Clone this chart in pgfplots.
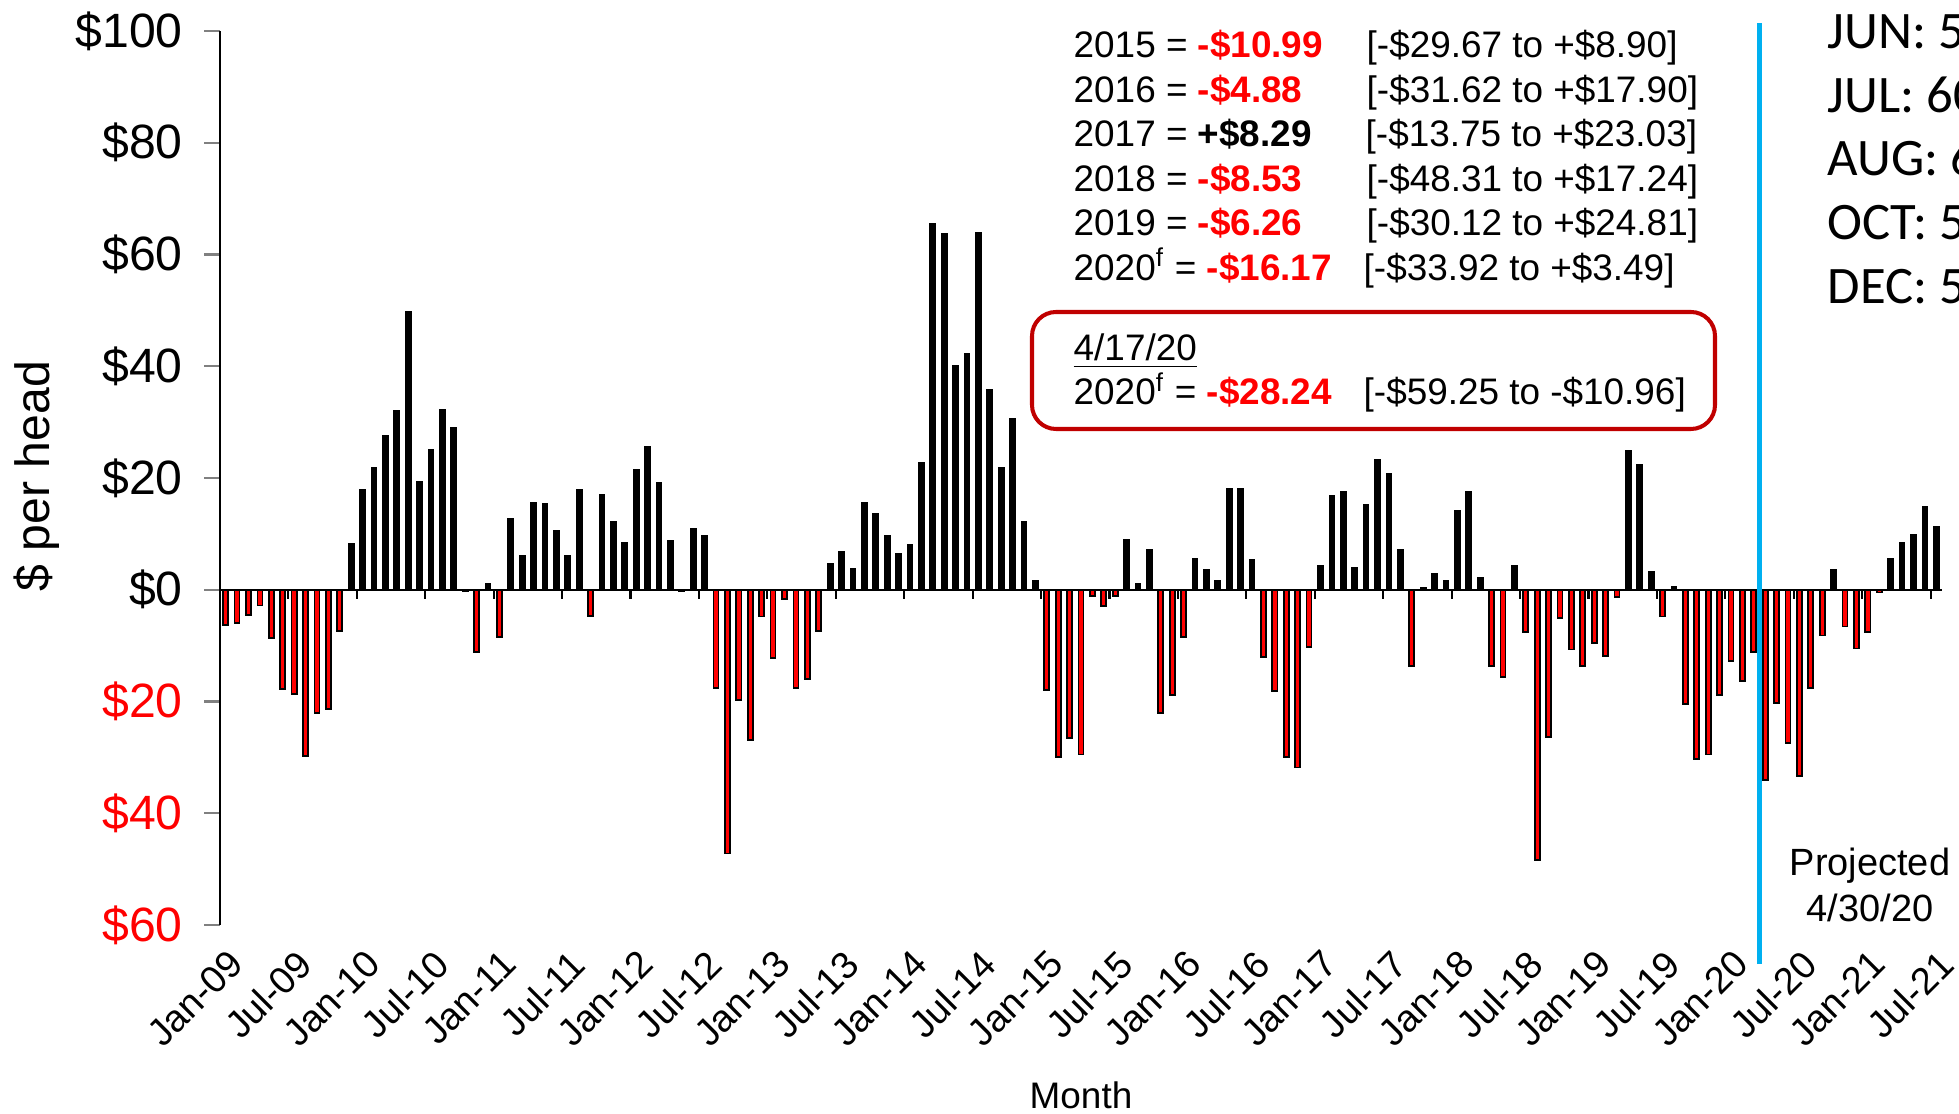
\documentclass[border=0pt]{standalone}
\usepackage{fontspec}
\setmainfont{Liberation Sans}
\newfontfamily\calibri{Carlito}
\usepackage{pgfplots}
\pgfplotsset{compat=1.18}
\usepackage{pgfplotstable}
\definecolor{negred}{RGB}{255,0,0}
\definecolor{boxred}{RGB}{192,0,0}
\definecolor{lineblue}{RGB}{0,176,240}

\pgfplotstableread{
k v
0 -6.3
1 -6.0
2 -4.5
3 -2.8
4 -8.7
5 -17.7
6 -18.7
7 -29.7
8 -22.1
9 -21.3
10 -7.4
11 8.2
12 17.9
13 21.8
14 27.6
15 32.0
16 49.7
17 19.3
18 25.1
19 32.2
20 28.9
21 -0.2
22 -11.1
23 1.0
24 -8.4
25 12.6
26 6.1
27 15.6
28 15.3
29 10.5
30 6.1
31 17.9
32 -4.7
33 16.9
34 12.1
35 8.4
36 21.4
37 25.5
38 19.1
39 8.7
40 -0.3
41 10.9
42 9.6
43 -17.6
44 -47.2
45 -19.7
46 -26.9
47 -4.8
48 -12.2
49 -1.6
50 -17.6
51 -16.0
52 -7.4
53 4.7
54 6.8
55 3.8
56 15.6
57 13.5
58 9.6
59 6.5
60 8.0
61 22.7
62 65.5
63 63.6
64 40.0
65 42.2
66 63.9
67 35.8
68 21.8
69 30.5
70 12.1
71 1.6
72 -17.9
73 -29.9
74 -26.5
75 -29.5
76 -1.1
77 -2.9
78 -1.1
79 8.9
80 1.1
81 7.2
82 -22.1
83 -18.9
84 -8.4
85 5.5
86 3.5
87 1.5
88 18.1
89 18.1
90 5.3
91 -12.1
92 -18.1
93 -29.9
94 -31.8
95 -10.2
96 4.2
97 16.8
98 17.5
99 4.0
100 15.2
101 23.2
102 20.8
103 7.2
104 -13.7
105 0.4
106 2.8
107 1.5
108 14.2
109 17.5
110 2.1
111 -13.7
112 -15.6
113 4.2
114 -7.6
115 -48.4
116 -26.3
117 -5.1
118 -10.7
119 -13.7
120 -9.5
121 -11.8
122 -1.3
123 24.9
124 22.4
125 3.2
126 -4.8
127 0.5
128 -20.5
129 -30.3
130 -29.5
131 -18.9
132 -12.8
133 -16.3
134 -11.1
135 -34.0
136 -20.3
137 -27.4
138 -33.3
139 -17.6
140 -8.2
141 3.5
142 -6.6
143 -10.5
144 -7.6
145 -0.5
146 5.6
147 8.3
148 9.9
149 14.8
150 11.2
}\margins

\begin{document}
\begin{tikzpicture}[x=1cm,y=1cm]
\useasboundingbox (0,0) rectangle (19.59,11.14);
\begin{axis}[
  at={(2.20cm,1.89cm)}, anchor=south west,
  width=17.22cm, height=8.94cm, scale only axis,
  xmin=-0.5, xmax=150.5, ymin=-60, ymax=100,
  axis lines*=left,
  x axis line style={draw=none},
  xtick style={draw=none},
  y axis line style={line width=0.6pt},
  ytick style={line width=0.6pt},
  tick align=outside,
  major tick length=1.6mm,
  ytick={-60,-40,-20,0,20,40,60,80,100},
  yticklabels={{\textcolor{negred}{\$60}},{\textcolor{negred}{\$40}},{\textcolor{negred}{\$20}},\$0,\$20,\$40,\$60,\$80,\$100},
  yticklabel style={font=\fontsize{13.7}{16}\selectfont, xshift=-0.9mm},
  xtick={-0.5,5.5,...,149.5},
  xticklabels={Jan-09,Jul-09,Jan-10,Jul-10,Jan-11,Jul-11,Jan-12,Jul-12,Jan-13,Jul-13,Jan-14,Jul-14,Jan-15,Jul-15,Jan-16,Jul-16,Jan-17,Jul-17,Jan-18,Jul-18,Jan-19,Jul-19,Jan-20,Jul-20,Jan-21,Jul-21},
  xticklabel style={font=\fontsize{10.8}{13}\selectfont, rotate=45, anchor=north east, yshift=0.3mm, xshift=1.2mm},
  clip=false,
]
\addplot[ybar, bar width=0.44, bar shift=0pt, fill=black, draw=black, line width=0.5pt,
  restrict y to domain=0:200] table[x=k,y=v]{\margins};
\addplot[ybar, bar width=0.44, bar shift=0pt, fill=negred, draw=black, line width=0.5pt,
  restrict y to domain=-200:0] table[x=k,y=v]{\margins};
\draw[line width=0.6pt] (axis cs:-0.5,0) -- (axis cs:150.5,0);
\pgfplotsinvokeforeach{5.5,11.5,...,149.5}{\draw[line width=0.6pt] (axis cs:#1,0) -- ++(0pt,-0.9mm);}
\addplot[lineblue, line width=1.4pt, no marks] coordinates {(134.5,-67) (134.5,101.4)};
\end{axis}

% y label and x label
\node[rotate=90, font=\fontsize{13.7}{16}\selectfont] at (0.37,6.38) {\$ per head};
\node[anchor=base, font=\fontsize{10.5}{12}\selectfont] at (10.81,0.05) {Month};

% annual summary lines
\begin{scope}[every node/.style={anchor=base west, inner sep=0pt, font=\fontsize{10.5}{12}\selectfont}]
\node at (10.73,10.56) {2015 = \textbf{\textcolor{negred}{-\$10.99}}};
\node at (13.66,10.56) {[-\$29.67 to +\$8.90]};
\node at (10.73,10.115) {2016 = \textbf{\textcolor{negred}{-\$4.88}}};
\node at (13.66,10.115) {[-\$31.62 to +\$17.90]};
\node at (10.73,9.67) {2017 = \textbf{+\$8.29}};
\node at (13.65,9.67) {[-\$13.75 to +\$23.03]};
\node at (10.73,9.225) {2018 = \textbf{\textcolor{negred}{-\$8.53}}};
\node at (13.66,9.225) {[-\$48.31 to +\$17.24]};
\node at (10.73,8.78) {2019 = \textbf{\textcolor{negred}{-\$6.26}}};
\node at (13.66,8.78) {[-\$30.12 to +\$24.81]};
\node at (10.73,8.335) {2020\textsuperscript{f} = \textbf{\textcolor{negred}{-\$16.17}}};
\node at (13.63,8.335) {[-\$33.92 to +\$3.49]};
\node at (10.73,7.53) {\underline{4/17/20}};
\node at (10.73,7.09) {2020\textsuperscript{f} = \textbf{\textcolor{negred}{-\$28.24}}};
\node at (13.63,7.09) {[-\$59.25 to -\$10.96]};
\end{scope}
\draw[boxred, line width=1.15pt, rounded corners=2.4mm] (10.32,8.02) rectangle (17.15,6.85);

% projected label
\node[anchor=base, font=\fontsize{10.8}{13}\selectfont] at (18.70,2.38) {Projected};
\node[anchor=base, font=\fontsize{10.8}{13}\selectfont] at (18.70,1.92) {4/30/20};

% futures text at right edge (clipped by the page edge)
\begin{scope}[every node/.style={anchor=base west, inner sep=0pt, font=\calibri\fontsize{15}{18}\selectfont}]
\node at (18.27,10.653) {JUN: 55};
\node at (18.27,10.016) {JUL: 60};
\node at (18.27,9.38) {AUG: 60};
\node at (18.27,8.742) {OCT: 50};
\node at (18.27,8.104) {DEC: 50};
\end{scope}
\end{tikzpicture}
\end{document}
